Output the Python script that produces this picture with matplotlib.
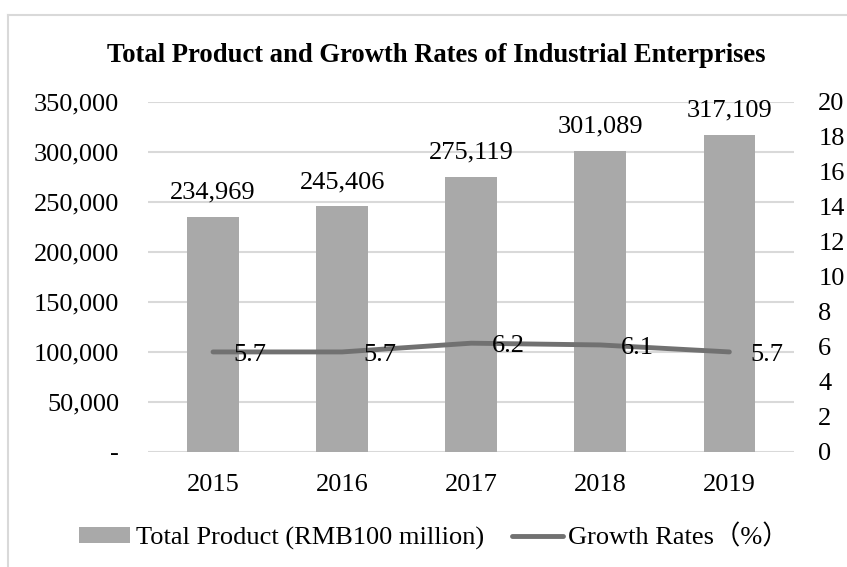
import matplotlib.pyplot as plt
from matplotlib.patches import Patch
from matplotlib.lines import Line2D

plt.rcParams['font.family'] = ['Liberation Serif', 'Noto Sans CJK SC', 'DejaVu Sans']

years = ['2015', '2016', '2017', '2018', '2019']
total_product = [234969, 245406, 275119, 301089, 317109]
growth_rates = [5.7, 5.7, 6.2, 6.1, 5.7]

left_ticks = [0, 50000, 100000, 150000, 200000, 250000, 300000, 350000]
left_labels = ['-', '50,000', '100,000', '150,000', '200,000', '250,000', '300,000', '350,000']
right_ticks = list(range(0, 21, 2))

bar_color = '#A9A9A9'
line_color = '#717171'
grid_color = '#D9D9D9'
fs = 19

fig = plt.figure(figsize=(8.47, 5.67), dpi=100)
ax = fig.add_axes([0.1753, 0.2034, 0.762, 0.6172])
x = list(range(len(years)))

bars = ax.bar(x, total_product, width=0.4, color=bar_color, zorder=2)
ax.set_xlim(-0.5, len(years) - 0.5)
ax.set_ylim(0, 350000)
ax.set_yticks(left_ticks)
ax.set_yticklabels(left_labels)
ax.set_xticks(x)
ax.set_xticklabels(years)
ax.tick_params(axis='y', length=0, pad=21, labelsize=fs)
ax.tick_params(axis='x', length=0, pad=16, labelsize=fs)
ax.grid(axis='y', color=grid_color, linewidth=1.5, zorder=0)
ax.set_axisbelow(True)
for s in ax.spines.values():
    s.set_visible(False)

for xi, v in zip(x, total_product):
    ax.annotate(f'{v:,}', (xi, v), xytext=(0, 13), textcoords='offset points',
                ha='center', va='baseline', fontsize=fs)

ax2 = ax.twinx()
ax2.plot(x, growth_rates, color=line_color, linewidth=3.5, solid_capstyle='round', zorder=3)
ax2.set_ylim(0, 20)
ax2.set_yticks(right_ticks)
ax2.tick_params(axis='y', length=0, pad=17.5, labelsize=fs)
for s in ax2.spines.values():
    s.set_visible(False)
for xi, v in zip(x, growth_rates):
    ax2.annotate(f'{v}', (xi, v), xytext=(15, -2), textcoords='offset points',
                 ha='left', va='center', fontsize=fs)

fig.text(436 / 847, 1 - 55 / 567, 'Total Product and Growth Rates of Industrial Enterprises',
         ha='center', va='center', fontsize=19.2, fontweight='bold')

handles = [Patch(facecolor=bar_color, edgecolor='none'),
           Line2D([0], [0], color=line_color, linewidth=3.5, solid_capstyle='round')]
fig.legend(handles, ['Total Product (RMB100 million)', 'Growth Rates（%）'],
           loc='center', bbox_to_anchor=(434 / 847, 1 - 537 / 567), ncol=2, frameon=False,
           fontsize=fs, handlelength=1.95, handleheight=0.53, handletextpad=0.2,
           columnspacing=1.05)

# outer chart border (only top and left edges are visible in the crop)
fig.add_artist(Line2D([8 / 847, 1], [1 - 15 / 567, 1 - 15 / 567], color=grid_color, linewidth=1.5))
fig.add_artist(Line2D([8 / 847, 8 / 847], [0, 1 - 15 / 567], color=grid_color, linewidth=1.5))

fig.savefig('out.png', dpi=100)
